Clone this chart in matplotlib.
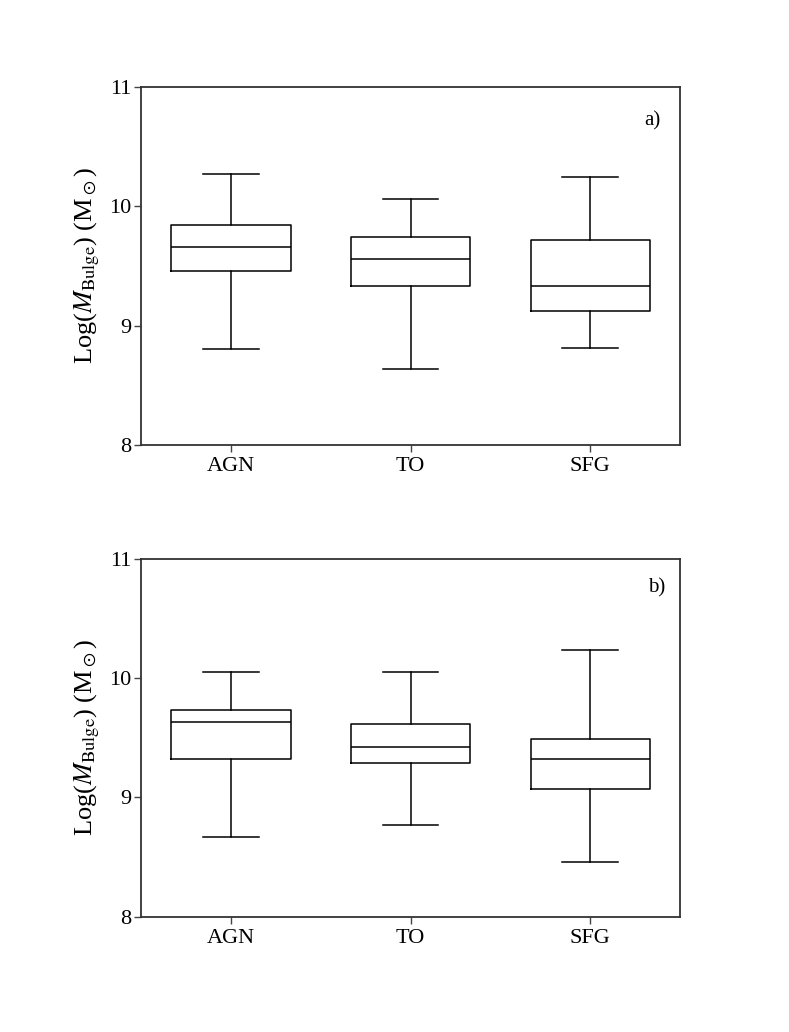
import matplotlib
matplotlib.use('Agg')
import matplotlib.pyplot as plt

plt.rcParams['font.family'] = ['Liberation Serif', 'DejaVu Serif']
plt.rcParams['mathtext.fontset'] = 'stix'
plt.rcParams['mathtext.rm'] = 'Liberation Serif'

# grupos
grupos = ['AGN', 'TO', 'SFG']

# panel a)
a_whislo = [8.80, 8.64, 8.81]
a_q1 = [9.46, 9.33, 9.12]
a_med = [9.66, 9.56, 9.33]
a_q3 = [9.84, 9.74, 9.72]
a_whishi = [10.27, 10.06, 10.24]

# panel b)
b_whislo = [8.67, 8.77, 8.46]
b_q1 = [9.32, 9.29, 9.07]
b_med = [9.63, 9.42, 9.32]
b_q3 = [9.73, 9.62, 9.49]
b_whishi = [10.05, 10.05, 10.24]

ylabel = r'Log($M_{\rm Bulge}$) (M$_\odot$)'


def stats(lo, q1, med, q3, hi):
    return [dict(label=g, whislo=lo[i], q1=q1[i], med=med[i], q3=q3[i], whishi=hi[i], fliers=[])
            for i, g in enumerate(grupos)]


fig = plt.figure(figsize=(7.89, 10.32), dpi=100)
ax_a = fig.add_axes([0.1787, 0.5688, 0.6833, 0.3472])
ax_b = fig.add_axes([0.1787, 0.1117, 0.6833, 0.3466])

paneles = [
    (ax_a, stats(a_whislo, a_q1, a_med, a_q3, a_whishi), 'a)', (0.948, 0.905)),
    (ax_b, stats(b_whislo, b_q1, b_med, b_q3, b_whishi), 'b)', (0.957, 0.92)),
]

for ax, st, etiqueta, pos in paneles:
    lp = dict(color='black', linewidth=1.1)
    ax.bxp(st, positions=[1, 2, 3], widths=0.665, capwidths=0.31, showfliers=False,
           boxprops=lp, whiskerprops=lp, capprops=lp,
           medianprops=dict(color='black', linewidth=1.1))
    ax.set_xlim(0.5, 3.5)
    ax.set_ylim(8, 11)
    ax.set_yticks([8, 9, 10, 11])
    ax.set_ylabel(ylabel, fontsize=19, labelpad=5)
    ax.tick_params(direction='out', length=5, width=1.0, labelsize=16, color='#444444', pad=2)
    ax.tick_params(axis='x', pad=4)
    for s in ax.spines.values():
        s.set_linewidth(1.3)
        s.set_color('#333333')
    ax.text(pos[0], pos[1], etiqueta, transform=ax.transAxes, fontsize=15, ha='center', va='center')

fig.savefig('out.png', dpi=100)
